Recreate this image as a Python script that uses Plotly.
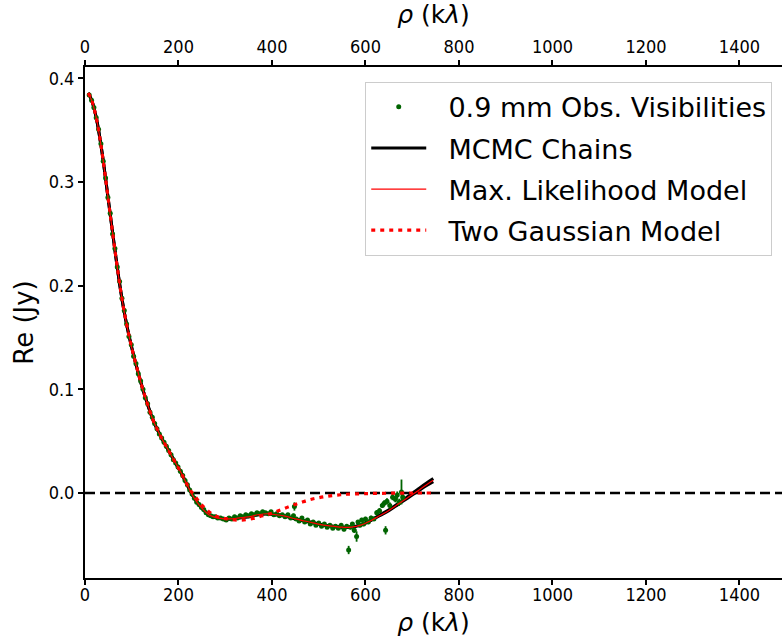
import plotly.graph_objects as go

# ---- model curves ----
rho_model = [7, 15, 25, 35, 45, 55, 65, 75, 85, 95,
             105, 115, 125, 135, 145, 155, 165, 175, 185, 195,
             205, 215, 225, 235, 245, 255, 265, 275,
             290, 310, 330, 350, 370, 390, 410, 430, 450, 470,
             490, 510, 530, 550, 570, 590, 610, 630, 650, 670,
             690, 710, 730, 745]
re_mcmc = [0.386, 0.378, 0.360, 0.333, 0.300, 0.265, 0.231, 0.199, 0.172, 0.150,
           0.131, 0.114, 0.098, 0.084, 0.071, 0.061, 0.052, 0.044, 0.036, 0.028,
           0.020, 0.011, 0.002, -0.006, -0.012, -0.017, -0.021, -0.023,
           -0.0245, -0.025, -0.024, -0.023, -0.021, -0.020, -0.021, -0.0225, -0.025, -0.027,
           -0.029, -0.031, -0.032, -0.033, -0.033, -0.031, -0.027, -0.022, -0.017, -0.011,
           -0.005, 0.001, 0.007, 0.011]
re_mcmc_alt = [0.386, 0.378, 0.360, 0.333, 0.300, 0.265, 0.231, 0.199, 0.172, 0.150,
               0.131, 0.114, 0.098, 0.084, 0.071, 0.061, 0.052, 0.044, 0.036, 0.028,
               0.020, 0.011, 0.002, -0.006, -0.012, -0.017, -0.021, -0.023,
               -0.0245, -0.025, -0.024, -0.023, -0.021, -0.020, -0.021, -0.0225, -0.025, -0.027,
               -0.029, -0.031, -0.032, -0.033, -0.0328, -0.0305, -0.0264, -0.0213, -0.0162, -0.0100,
               -0.0035, 0.0030, 0.0095, 0.0140]
re_maxlike = [0.386, 0.378, 0.360, 0.333, 0.300, 0.265, 0.231, 0.199, 0.172, 0.150,
              0.131, 0.114, 0.098, 0.084, 0.071, 0.061, 0.052, 0.044, 0.036, 0.028,
              0.020, 0.011, 0.002, -0.006, -0.012, -0.017, -0.021, -0.023,
              -0.0245, -0.025, -0.024, -0.023, -0.021, -0.020, -0.021, -0.0225, -0.025, -0.027,
              -0.029, -0.031, -0.032, -0.033, -0.033, -0.031, -0.027, -0.022, -0.0168, -0.0107,
              -0.0045, 0.0015, 0.0078, 0.0122]

rho_gauss = [7, 15, 25, 35, 45, 55, 65, 75, 85, 95,
             105, 115, 125, 135, 145, 155, 165, 175, 185, 195,
             205, 215, 225, 235, 245, 255, 265, 275, 290, 305,
             320, 340, 360, 380, 400, 420, 440, 460, 480, 500,
             520, 540, 560, 600, 650, 700, 745]
re_gauss = [0.386, 0.378, 0.360, 0.333, 0.300, 0.265, 0.231, 0.199, 0.172, 0.150,
            0.131, 0.114, 0.098, 0.084, 0.071, 0.061, 0.052, 0.044, 0.036, 0.028,
            0.020, 0.011, 0.003, -0.003, -0.009, -0.014, -0.018, -0.021, -0.024, -0.025,
            -0.026, -0.026, -0.0245, -0.022, -0.0195, -0.016, -0.0125, -0.0095, -0.0065, -0.0045,
            -0.003, -0.002, -0.0012, -0.0006, -0.0002, 0.0, 0.0]

# ---- observed visibilities ----
rho_obs = [9, 14, 19, 24, 29, 34, 39, 44, 49, 54,
           59, 64, 69, 74, 79, 84, 89, 94, 99, 104,
           109, 114, 119, 124, 129, 134, 139, 144, 149, 154,
           159, 164, 169, 174, 179, 184, 189, 194, 199, 204,
           209, 214, 219, 224, 229, 234, 239, 244, 249, 254,
           259, 264, 269, 274, 279, 284, 290, 296, 302, 308,
           314, 320, 326, 332, 338, 344, 350, 356, 362, 368,
           374, 380, 386, 392, 398, 404, 410, 416, 422, 428,
           434, 440, 446, 448, 452, 458, 464, 470, 476, 482,
           488, 494, 500, 506, 512, 518, 524, 530, 536, 542,
           548, 554, 560, 564, 568, 572, 576, 581, 584, 588,
           592, 596, 600, 606, 612, 618, 624, 630, 636, 640,
           643, 646, 652, 658, 664, 668, 672, 677, 680]
re_obs = [0.384, 0.379, 0.372, 0.362, 0.351, 0.337, 0.320, 0.304, 0.285, 0.270,
          0.250, 0.236, 0.218, 0.204, 0.188, 0.176, 0.163, 0.151, 0.143, 0.132,
          0.125, 0.115, 0.108, 0.100, 0.092, 0.086, 0.078, 0.073, 0.067, 0.062,
          0.057, 0.053, 0.049, 0.045, 0.041, 0.037, 0.032, 0.029, 0.025, 0.021,
          0.017, 0.012, 0.008, 0.003, -0.001, -0.005, -0.009, -0.011, -0.014, -0.016,
          -0.019, -0.021, -0.022, -0.023, -0.023, -0.024, -0.024, -0.025, -0.026, -0.024,
          -0.025, -0.023, -0.024, -0.022, -0.023, -0.021, -0.022, -0.020, -0.021, -0.019,
          -0.020, -0.018, -0.019, -0.020, -0.018, -0.021, -0.020, -0.022, -0.021, -0.023,
          -0.021, -0.024, -0.022, -0.013, -0.025, -0.027, -0.024, -0.028, -0.026, -0.030,
          -0.028, -0.031, -0.029, -0.032, -0.030, -0.033, -0.031, -0.034, -0.032, -0.034,
          -0.031, -0.035, -0.032, -0.055, -0.033, -0.030, -0.036, -0.042, -0.028, -0.031,
          -0.026, -0.030, -0.025, -0.028, -0.024, -0.025, -0.019, -0.017, -0.012, -0.010,
          -0.036, -0.008, -0.012, -0.004, -0.006, -0.002, -0.009, 0.001, -0.004]
err_obs = [0.0015, 0.0015, 0.0015, 0.0015, 0.0015, 0.0015, 0.0015, 0.0015, 0.0015, 0.0015,
           0.0015, 0.0015, 0.0015, 0.0015, 0.0015, 0.0015, 0.0015, 0.0015, 0.0015, 0.0015,
           0.0015, 0.0015, 0.0015, 0.0015, 0.0015, 0.0015, 0.0015, 0.0015, 0.0015, 0.0015,
           0.0015, 0.0015, 0.0015, 0.0015, 0.0015, 0.0015, 0.0015, 0.0015, 0.0015, 0.0015,
           0.0015, 0.0015, 0.0015, 0.0015, 0.0015, 0.0015, 0.0015, 0.0015, 0.0015, 0.0015,
           0.0015, 0.0015, 0.0015, 0.0015, 0.0015, 0.0015, 0.0015, 0.0015, 0.0015, 0.0015,
           0.0015, 0.0015, 0.0015, 0.0015, 0.0015, 0.0015, 0.0015, 0.0015, 0.0015, 0.0015,
           0.0015, 0.0015, 0.0015, 0.0015, 0.0015, 0.0015, 0.0015, 0.0015, 0.0015, 0.0015,
           0.0015, 0.0015, 0.0020, 0.0040, 0.0015, 0.0015, 0.0015, 0.0015, 0.0015, 0.0015,
           0.0015, 0.0015, 0.0015, 0.0015, 0.0015, 0.0015, 0.0015, 0.0015, 0.0015, 0.0015,
           0.0015, 0.0020, 0.0015, 0.0040, 0.0020, 0.0020, 0.0025, 0.0050, 0.0020, 0.0020,
           0.0020, 0.0020, 0.0020, 0.0020, 0.0020, 0.0020, 0.0025, 0.0025, 0.0025, 0.0030,
           0.0040, 0.0030, 0.0030, 0.0030, 0.0030, 0.0035, 0.0035, 0.0120, 0.0030]

x_ticks = [0, 200, 400, 600, 800, 1000, 1200, 1400]
y_ticks = [0.0, 0.1, 0.2, 0.3, 0.4]
y_ticktext = ["0.0", "0.1", "0.2", "0.3", "0.4"]

legend_names = ["0.9 mm Obs. Visibilities", "MCMC Chains",
                "Max. Likelihood Model", "Two Gaussian Model"]

GREEN = "#006400"
TICKFONT = dict(family="Liberation Sans Narrow, DejaVu Sans Condensed, DejaVu Sans", size=18, color="black")
TITLEFONT = dict(family="Liberation Sans Narrow, DejaVu Sans", size=25, color="black")
PAD = "\u00a0\u00a0"

fig = go.Figure()

fig.add_trace(go.Scatter(
    x=rho_model, y=re_mcmc_alt, mode="lines", line=dict(color="black", width=3, shape="spline"),
    showlegend=False, hoverinfo="skip"))
fig.add_trace(go.Scatter(
    x=rho_model, y=re_mcmc, mode="lines", name=PAD + legend_names[1],
    line=dict(color="black", width=3, shape="spline"), legendrank=2, legendgroup="b"))
fig.add_trace(go.Scatter(
    x=rho_obs, y=re_obs, mode="markers", name=PAD + legend_names[0],
    marker=dict(color=GREEN, size=5),
    error_y=dict(type="data", array=err_obs, color=GREEN, thickness=1.8, width=0),
    legendrank=1, legendgroup="a"))
fig.add_trace(go.Scatter(
    x=rho_model, y=re_maxlike, mode="lines", name=PAD + legend_names[2],
    line=dict(color="red", width=1.2, shape="spline"), legendrank=3, legendgroup="c"))
fig.add_trace(go.Scatter(
    x=rho_gauss, y=re_gauss, mode="lines", name=PAD + legend_names[3],
    line=dict(color="red", width=3.2, dash="4px,5px", shape="spline"), legendrank=4,
    legendgroup="d"))
# invisible trace to carry the top axis
fig.add_trace(go.Scatter(x=[0], y=[0], xaxis="x2", mode="markers",
                         marker=dict(opacity=0), showlegend=False, hoverinfo="skip"))

fig.add_shape(type="line", xref="paper", x0=0, x1=1, yref="y", y0=0, y1=0,
              line=dict(color="black", width=2.5, dash="10px,5px"), layer="below")

axis_common = dict(
    range=[0, 1491], tickvals=x_ticks, ticks="outside", ticklen=5, tickwidth=1.5,
    tickcolor="black", showline=True, linewidth=2, linecolor="black",
    showgrid=False, zeroline=False, tickfont=TICKFONT,
)

fig.update_layout(
    width=782, height=644,
    margin=dict(l=85, r=0, t=67, b=66),
    paper_bgcolor="white", plot_bgcolor="white",
    showlegend=True,
    xaxis=dict(**axis_common, side="bottom", anchor="y", ticklabelstandoff=-6,
               title=dict(text="<i>ρ</i> (k<i>λ</i>)", font=TITLEFONT, standoff=10)),
    xaxis2=dict(**axis_common, side="top", overlaying="x", anchor="y",
                title=dict(text="<i>ρ</i> (k<i>λ</i>)", font=TITLEFONT, standoff=6)),
    yaxis=dict(range=[-0.082, 0.411], tickvals=y_ticks, ticktext=y_ticktext,
               ticks="outside", ticklen=5, tickwidth=1.5, tickcolor="black",
               showline=True, linewidth=2, linecolor="black",
               showgrid=False, zeroline=False,
               tickfont=dict(family="DejaVu Sans Condensed, DejaVu Sans", size=18, color="black"),
               title=dict(text="Re (Jy)", font=dict(family="DejaVu Sans", size=26, color="black"),
                          standoff=8)),
    legend=dict(x=0.986, y=0.971, xanchor="right", yanchor="top",
                bgcolor="white", bordercolor="#cccccc", borderwidth=1,
                font=dict(family="DejaVu Sans", size=27, color="black"),
                itemwidth=55, tracegroupgap=3),
)

fig.write_html("out.html")
